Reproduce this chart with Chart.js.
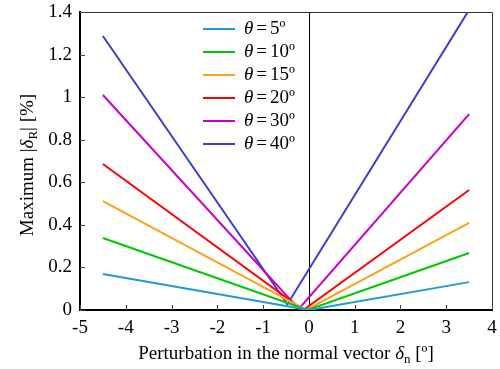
<!DOCTYPE html>
<html>
<head>
<meta charset="utf-8">
<script src="https://cdn.jsdelivr.net/npm/chart.js@4"></script>
<style>
  html, body { margin: 0; padding: 0; background: #fff; }
  #wrap { width: 500px; height: 369px; }
</style>
</head>
<body>
<div id="wrap"><canvas id="chart" width="500" height="369"></canvas></div>
<script>
// angles of the legend entries
const thetaLabels = ['5', '10', '15', '20', '30', '40'];
const seriesColors = ['#1f9bd7', '#00c800', '#ffa01e', '#ff0000', '#c800c8', '#3c3cd2'];

// perturbation (x) and maximum |dR| (y) for each theta
const perturb5 = [-4.5, 0.0, 3.5];
const maxDelta5 = [0.169, 0.0, 0.131];
const perturb10 = [-4.5, -0.03, 3.5];
const maxDelta10 = [0.338, 0.0, 0.268];
const perturb15 = [-4.5, -0.06, 3.5];
const maxDelta15 = [0.512, 0.0, 0.409];
const perturb20 = [-4.5, -0.12, 3.5];
const maxDelta20 = [0.686, 0.0, 0.564];
const perturb30 = [-4.5, -0.22, 3.5];
const maxDelta30 = [1.01, 0.005, 0.92];
const perturb40 = [-4.5, -0.47, 3.5];
const maxDelta40 = [1.287, 0.027, 1.41];

const xTicks = [-5, -4, -3, -2, -1, 0, 1, 2, 3, 4];
const yTicks = [0, 0.2, 0.4, 0.6, 0.8, 1, 1.2, 1.4];

const perturbs = [perturb5, perturb10, perturb15, perturb20, perturb30, perturb40];
const maxDeltas = [maxDelta5, maxDelta10, maxDelta15, maxDelta20, maxDelta30, maxDelta40];

const serif = '"Liberation Serif", "Times New Roman", serif';

let datasets = thetaLabels.map((t, i) => ({
  label: t,
  data: perturbs[i].map((x, j) => ({x: x, y: maxDeltas[i][j]})),
  borderColor: seriesColors[i],
  backgroundColor: seriesColors[i],
  borderWidth: 2,
  pointRadius: 0,
  tension: 0
}));

// frame, inward ticks, zero line, legend and axis titles
let decorations = {
  id: 'decorations',
  beforeDatasetsDraw(chart) {
    let ctx = chart.ctx;
    let a = chart.chartArea;
    let xs = chart.scales.x, ys = chart.scales.y;
    ctx.save();
    ctx.strokeStyle = '#333';
    ctx.lineWidth = 1;
    ctx.beginPath();
    ctx.moveTo(a.left, a.top + 0.5);
    ctx.lineTo(a.right + 0.5, a.top + 0.5);
    ctx.lineTo(a.right + 0.5, a.bottom);
    ctx.stroke();
    // zero line
    let zx = Math.round(xs.getPixelForValue(0)) + 0.5;
    ctx.strokeStyle = '#000';
    ctx.beginPath();
    ctx.moveTo(zx, ys.getPixelForValue(0));
    ctx.lineTo(zx, ys.getPixelForValue(1.4));
    ctx.stroke();
    // ticks pointing inward
    ctx.strokeStyle = '#444';
    ctx.beginPath();
    xTicks.forEach(v => {
      let px = Math.round(xs.getPixelForValue(v)) + 0.5;
      ctx.moveTo(px, a.bottom);
      ctx.lineTo(px, a.bottom - 5);
    });
    yTicks.forEach(v => {
      let py = Math.round(ys.getPixelForValue(v)) + 0.5;
      ctx.moveTo(a.left, py);
      ctx.lineTo(a.left + 5, py);
    });
    ctx.stroke();
    ctx.restore();
  },
  afterDraw(chart) {
    let ctx = chart.ctx;
    let a = chart.chartArea;
    ctx.save();
    ctx.fillStyle = '#000';
    ctx.textBaseline = 'middle';
    // legend
    chart.data.datasets.forEach((ds, i) => {
      let y = a.top + 17 + i * 23;
      ctx.strokeStyle = ds.borderColor;
      ctx.lineWidth = 2;
      ctx.beginPath();
      ctx.moveTo(a.left + 123, y);
      ctx.lineTo(a.left + 155, y);
      ctx.stroke();
      let x = a.left + 164;
      ctx.font = 'italic 19px ' + serif;
      ctx.fillText('θ', x, y);
      x += ctx.measureText('θ').width + 3;
      ctx.font = '19px ' + serif;
      ctx.fillText('=', x, y);
      x += ctx.measureText('=').width + 3;
      ctx.fillText(ds.label + 'º', x, y);
    });
    ctx.textBaseline = 'alphabetic';
    // x title
    drawParts(ctx, [
      ['Perturbation in the normal vector ', '19px', 0],
      ['δ', 'italic 19px', 0],
      ['n', '13px', 4],
      [' [º]', '19px', 0]
    ], (a.left + a.right) / 2, 359);
    // y title
    ctx.translate(27, (a.top + a.bottom) / 2 + 4);
    ctx.rotate(-Math.PI / 2);
    drawParts(ctx, [
      ['Maximum |', '19px', 0],
      ['δ', 'italic 19px', 0],
      ['R', '13px', 4],
      ['| [%]', '19px', 0]
    ], 0, 6);
    ctx.restore();
  }
};

function drawParts(ctx, parts, cx, baseY) {
  let total = 0;
  parts.forEach(p => {
    ctx.font = p[1] + ' ' + serif;
    total += ctx.measureText(p[0]).width;
  });
  let x = cx - total / 2;
  ctx.textAlign = 'left';
  parts.forEach(p => {
    ctx.font = p[1] + ' ' + serif;
    ctx.fillText(p[0], x, baseY + p[2]);
    x += ctx.measureText(p[0]).width;
  });
}

new Chart(document.getElementById('chart').getContext('2d'), {
  type: 'line',
  data: { datasets: datasets },
  options: {
    responsive: false,
    animation: false,
    layout: { padding: { top: 12, right: 8, left: 0, bottom: 0 } },
    plugins: { legend: { display: false }, tooltip: { enabled: false } },
    scales: {
      x: {
        type: 'linear',
        min: -5,
        max: 4,
        afterBuildTicks: s => { s.ticks = xTicks.map(v => ({value: v})); },
        afterFit: s => { s.height = 59; s.paddingLeft = 0; s.paddingRight = 0; },
        grid: { display: false, drawTicks: false },
        border: { color: '#000', width: 2 },
        ticks: {
          padding: 7,
          color: '#000',
          font: { family: serif, size: 19 },
          maxRotation: 0,
          callback: v => String(v)
        }
      },
      y: {
        type: 'linear',
        min: 0,
        max: 1.4,
        afterBuildTicks: s => { s.ticks = yTicks.map(v => ({value: v})); },
        afterFit: s => { s.width = 80; s.paddingTop = 0; s.paddingBottom = 0; },
        grid: { display: false, drawTicks: false },
        border: { color: '#000', width: 2 },
        ticks: {
          padding: 8,
          color: '#000',
          font: { family: serif, size: 19 },
          callback: v => String(+v.toFixed(1))
        }
      }
    }
  },
  plugins: [decorations]
});
</script>
</body>
</html>
